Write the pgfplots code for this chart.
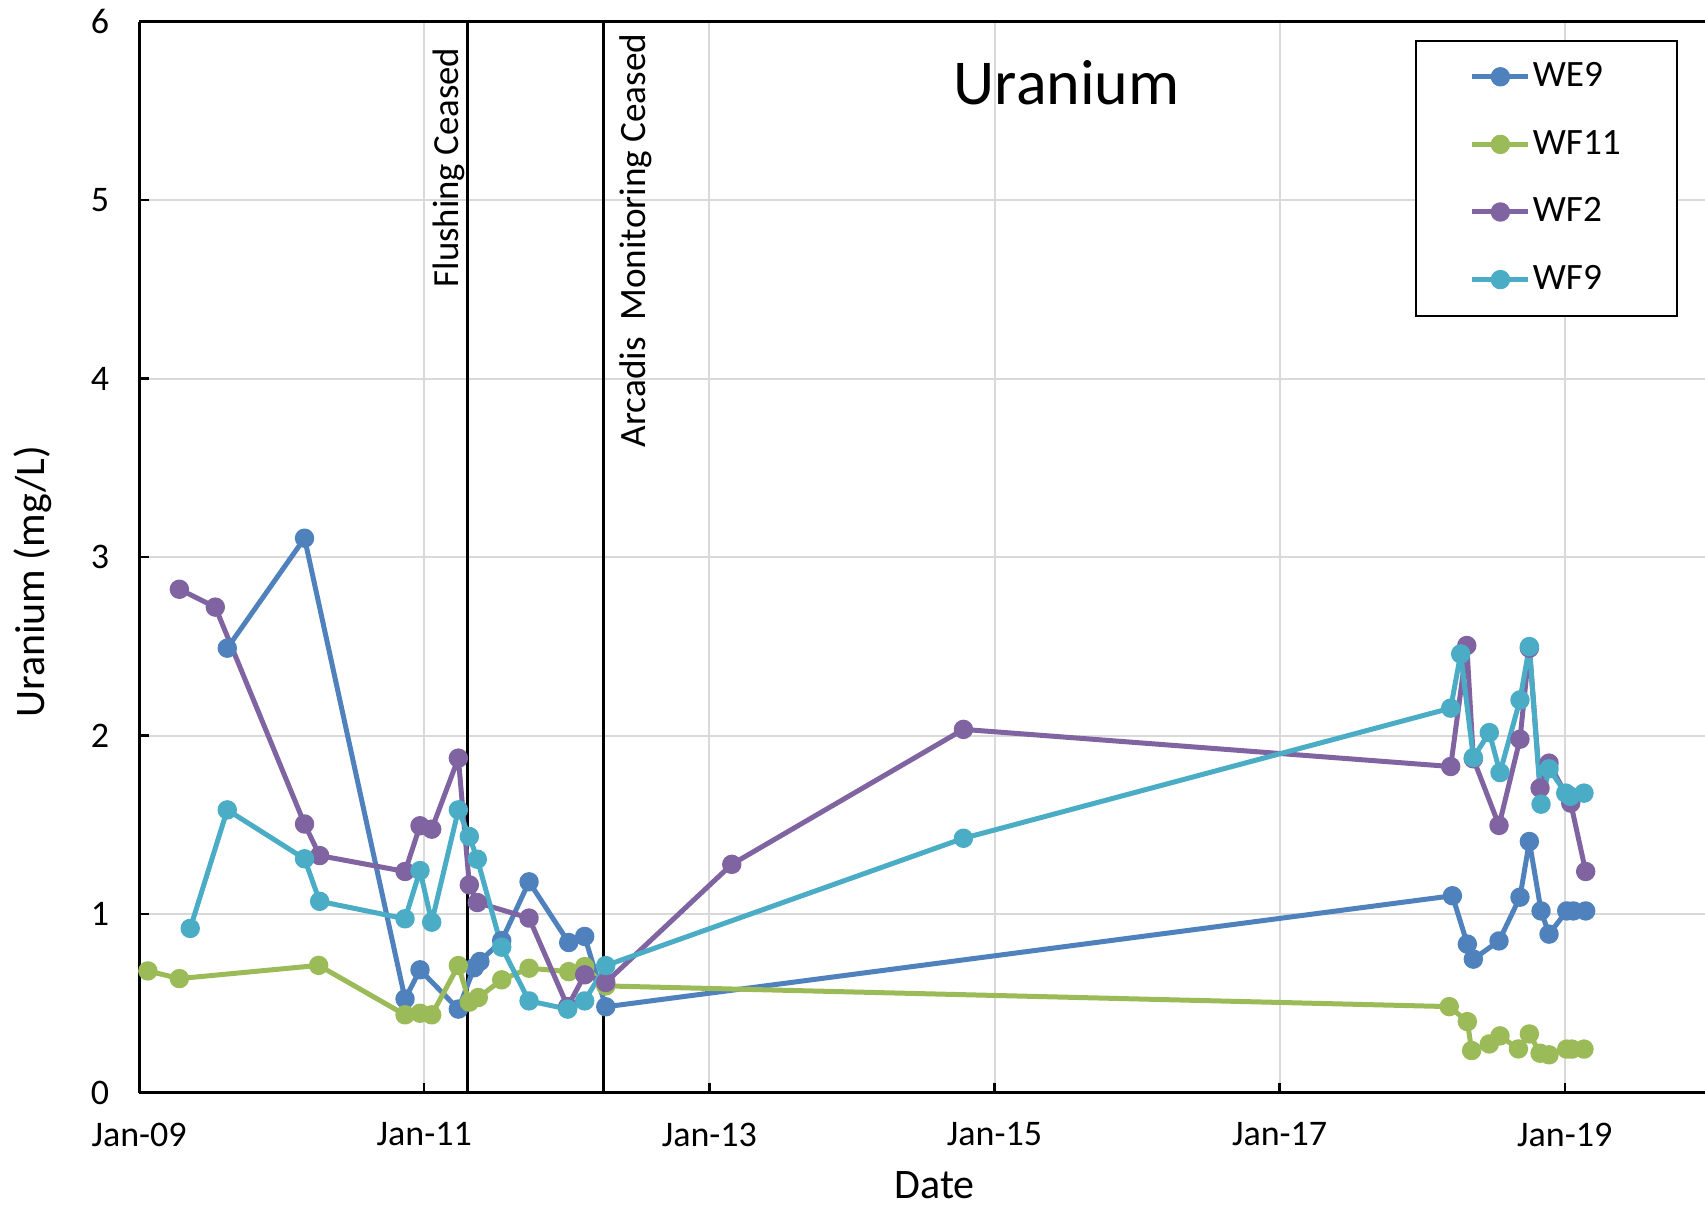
\documentclass[border=0pt]{standalone}
\usepackage{fontspec}
\setmainfont{Carlito}
\usepackage{pgfplots}
\pgfplotsset{compat=1.18}

\definecolor{cWE}{RGB}{79,129,189}
\definecolor{cWFa}{RGB}{155,187,89}
\definecolor{cWFb}{RGB}{128,100,162}
\definecolor{cWFc}{RGB}{75,172,198}
\definecolor{gridgray}{RGB}{217,217,217}

\begin{document}
\begin{tikzpicture}
\begin{axis}[
    scale only axis,
    width=391.5pt, height=267.8pt,
    xmin=2009, xmax=2019.984, ymin=0, ymax=6,
    axis x line*=box, axis y line*=left,
    xtick pos=left,
    xtick={2009,2011,2013,2015,2017,2019},
    xticklabels={Jan-09,Jan-11,Jan-13,Jan-15,Jan-17,Jan-19},
    ytick={0,1,2,3,4,5,6},
    grid=major,
    major grid style={color=gridgray, line width=0.5pt},
    axis line style={black, line width=0.8pt},
    tick style={black, line width=0.6pt},
    major tick length=2.5pt,
    tick label style={font=\fontsize{9}{10}\selectfont},
    /pgf/number format/assume math mode=true,
    xticklabel style={yshift=-4pt},
    yticklabel style={xshift=-4pt},
    xlabel={Date},
    ylabel={Uranium (mg/L)},
    label style={font=\fontsize{10.5}{12}\selectfont},
    xlabel style={at={(axis description cs:0.508,-0.086)}, anchor=center},
    ylabel style={at={(axis description cs:-0.0682,0.477)}, anchor=center},
    every axis plot/.append style={line width=1.25pt, line join=round, mark=*, mark size=1.8pt},
    legend style={at={(0.9826,0.983)}, anchor=north east, draw=black,
        line width=0.5pt, fill=white, font=\fontsize{9.3}{11}\selectfont,
        inner xsep=13.5pt, inner ysep=2.5pt, row sep=3.9pt,
        nodes={inner xsep=0.5pt, inner ysep=2pt, text height=7pt, text depth=2pt}},
    legend cell align=left,
    legend image code/.code={\draw[mark repeat=2,mark phase=2,#1]
        plot coordinates {(0pt,0pt) (7pt,0pt) (14pt,0pt)};},
]
\coordinate (sw) at (rel axis cs:0,0);
\coordinate (ne) at (rel axis cs:1,1);

% event lines
\addplot[black, line width=0.7pt, mark=none, forget plot] coordinates {(2011.304,0) (2011.304,6)};
\addplot[black, line width=0.7pt, mark=none, forget plot] coordinates {(2012.257,0) (2012.257,6)};

\addplot[color=cWE, mark options={fill=cWE, draw=cWE}] coordinates {
(2009.618,2.49) (2010.160,3.106) (2010.865,0.525) (2010.970,0.688)
(2011.239,0.468) (2011.350,0.700) (2011.390,0.735) (2011.543,0.852)
(2011.735,1.181) (2012.013,0.841) (2012.125,0.875) (2012.273,0.481)
(2018.212,1.103) (2018.317,0.832) (2018.359,0.748) (2018.539,0.850)
(2018.686,1.095) (2018.752,1.407) (2018.834,1.018) (2018.890,0.888)
(2019.014,1.018) (2019.060,1.018) (2019.147,1.018)};
\addlegendentry{WE9}

\addplot[color=cWFa, mark options={fill=cWFa, draw=cWFa}] coordinates {
(2009.061,0.682) (2009.282,0.639) (2010.259,0.713) (2010.865,0.436)
(2010.970,0.445) (2011.052,0.436) (2011.239,0.712) (2011.316,0.507)
(2011.379,0.533) (2011.543,0.632) (2011.735,0.697) (2012.013,0.678)
(2012.125,0.706) (2012.273,0.598) (2018.190,0.482) (2018.317,0.398)
(2018.347,0.236) (2018.471,0.273) (2018.546,0.318) (2018.675,0.245)
(2018.752,0.329) (2018.827,0.221) (2018.890,0.212) (2019.014,0.244)
(2019.050,0.244) (2019.135,0.244)};
\addlegendentry{WF11}

\addplot[color=cWFb, mark options={fill=cWFb, draw=cWFb}] coordinates {
(2009.282,2.82) (2009.534,2.72) (2010.160,1.505) (2010.266,1.328)
(2010.865,1.239) (2010.970,1.495) (2011.052,1.476) (2011.239,1.874)
(2011.316,1.164) (2011.372,1.065) (2011.735,0.978) (2012.006,0.482)
(2012.125,0.660) (2012.273,0.617) (2013.157,1.279) (2014.782,2.035)
(2018.200,1.827) (2018.313,2.505) (2018.359,1.870) (2018.539,1.497)
(2018.686,1.980) (2018.752,2.490) (2018.827,1.706) (2018.890,1.846)
(2019.042,1.622) (2019.147,1.239)};
\addlegendentry{WF2}

\addplot[color=cWFc, mark options={fill=cWFc, draw=cWFc}] coordinates {
(2009.358,0.920) (2009.618,1.584) (2010.160,1.310) (2010.266,1.072)
(2010.865,0.974) (2010.970,1.244) (2011.052,0.955) (2011.239,1.584)
(2011.316,1.435) (2011.372,1.308) (2011.543,0.815) (2011.735,0.514)
(2012.006,0.468) (2012.125,0.514) (2012.273,0.712) (2014.782,1.425)
(2018.200,2.154) (2018.270,2.458) (2018.359,1.877) (2018.471,2.017)
(2018.546,1.793) (2018.686,2.200) (2018.752,2.499) (2018.834,1.616)
(2018.890,1.814) (2019.007,1.678) (2019.040,1.660) (2019.135,1.678)};
\addlegendentry{WF9}

\node[rotate=90, anchor=base west, inner sep=0pt, font=\fontsize{9.2}{11}\selectfont]
    at (axis cs:2011.243,4.508) {Flushing Ceased};
\node[rotate=90, anchor=base west, inner sep=0pt, font=\fontsize{9.3}{11}\selectfont]
    at (axis cs:2012.555,3.612) {Arcadis\ \ Monitoring Ceased};
\node[anchor=base, inner sep=0pt, font=\fontsize{16}{19}\selectfont]
    at (axis cs:2015.507,5.537) {Uranium};
\end{axis}
\pgfresetboundingbox
\path[use as bounding box] ([xshift=-34.8pt,yshift=-28.3pt]sw) rectangle ([yshift=5.4pt]ne);
\end{tikzpicture}
\end{document}
